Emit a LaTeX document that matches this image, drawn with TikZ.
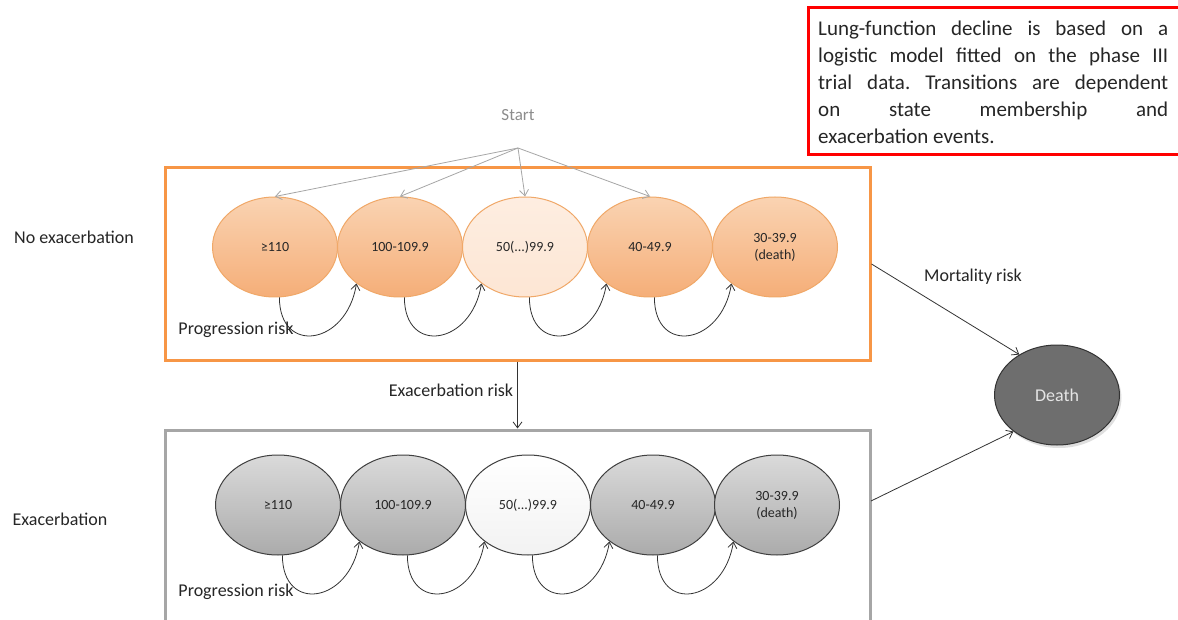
\documentclass[tikz,border=0pt]{standalone}
\usepackage{fontspec}
\setmainfont{Carlito}
\usetikzlibrary{arrows.meta,shapes.geometric,shadows}
\frenchspacing
\definecolor{orbord}{HTML}{F79646}
\definecolor{orell}{HTML}{F0A868}
\definecolor{ortop}{HTML}{FAD3B2}
\definecolor{orbot}{HTML}{F5AE78}
\definecolor{orlight}{HTML}{FDE6D4}
\definecolor{grbord}{HTML}{A6A6A6}
\definecolor{grtop}{HTML}{DADADA}
\definecolor{grbot}{HTML}{ABABAB}
\definecolor{grlight}{HTML}{F2F2F2}
\definecolor{txt}{HTML}{262626}
\tikzset{
  ell/.style={ellipse, minimum width=125pt, minimum height=100pt, inner sep=0pt, font=\fontsize{14}{17}\selectfont, text=txt, align=center},
  orell/.style={ell, draw=orell, line width=1pt, top color=ortop, bottom color=orbot},
  orellL/.style={ell, draw=orell, line width=1pt, top color=orlight!70!white, bottom color=orlight},
  grell/.style={ell, draw=black!75, line width=1pt, top color=grtop, bottom color=grbot},
  grellL/.style={ell, draw=black!75, line width=1pt, top color=white, bottom color=grlight},
  lab/.style={font=\fontsize{18}{21}\selectfont, text=txt},
  arr/.style={-{Straight Barb[length=6pt,width=9pt]}, line width=0.8pt, draw=black!80},
  startarr/.style={-{Straight Barb[length=6pt,width=9pt]}, line width=0.8pt, draw=black!35},
  loopc/.style={arr}
}
\begin{document}
\begin{tikzpicture}[x=1pt,y=-1pt]
\useasboundingbox (0,0) rectangle (1178,620);
\fill[white] (0,0) rectangle (1178,620);
% note box
\draw[red, line width=3pt] (808,8) rectangle (1184,155);
\node[anchor=north west, text width=350pt, align=justify, font=\fontsize{21}{27}\selectfont, text=txt, inner sep=0pt] (note) at (818,21)
 {\hyphenpenalty=10000 Lung-function decline is based on a\linebreak logistic model fitted on the phase III\linebreak trial data. Transitions are dependent\linebreak on state membership and\linebreak exacerbation events.};
% boxes
\node[draw=orbord, line width=3pt, minimum width=705pt, minimum height=192pt] (nobox) at (517.5,264) {};
\node[draw=grbord, line width=3pt, minimum width=705pt, minimum height=196pt] (exbox) at (517.5,528) {};
% start
\node[font=\fontsize{17}{20}\selectfont, text=black!45] (start) at (518,115) {Start};
\coordinate (s0) at (518,148);
% top ellipses
\node[orell]  (a1) at (275,247) {≥110};
\node[orell]  (a2) at (400,247) {100-109.9};
\node[orellL] (a3) at (525,247) {50(...)99.9};
\node[orell]  (a4) at (650,247) {40-49.9};
\node[orell]  (a5) at (775,247) {30-39.9\\(death)};
% bottom ellipses
\node[grell]  (b1) at (278,505) {≥110};
\node[grell]  (b2) at (403,505) {100-109.9};
\node[grellL] (b3) at (528,505) {50(...)99.9};
\node[grell]  (b4) at (653,505) {40-49.9};
\node[grell]  (b5) at (777,505) {30-39.9\\(death)};
% start arrows
\foreach \t in {a1,a2,a3,a4} \draw[startarr] (s0) -- (\t.north);
% loops
\foreach \p/\q in {a1/a2,a2/a3,a3/a4,a4/a5,b1/b2,b2/b3,b3/b4,b4/b5}
  \draw[loopc] (\p.-85) .. controls +(0,58) and +(-10,62) .. (\q.-140);
% labels
\node[lab] (noex) at (74,237) {No exacerbation};
\node[lab] (ex) at (60,519) {Exacerbation};
\node[lab] (pr1) at (236,330) {Progression risk};
\node[lab] (pr2) at (236,592) {Progression risk};
\node[lab] (exr) at (451,390) {Exacerbation risk};
\node[lab] (mr) at (973,277) {Mortality risk};
% death
\node[ellipse, minimum width=125pt, minimum height=100pt, fill=black!57, draw=black!80, line width=1pt, text=black!10, font=\fontsize{18}{21}\selectfont, drop shadow={shadow xshift=2pt, shadow yshift=-3pt, opacity=0.25}] (death) at (1057,395) {Death};
% connectors
\draw[arr] (nobox.south) -- (exbox.north);
\draw[arr] (nobox.east) -- (death.133);
\coordinate (exout) at (871,501);
\draw[arr] (exout) -- (death.-140);
\end{tikzpicture}
\end{document}
